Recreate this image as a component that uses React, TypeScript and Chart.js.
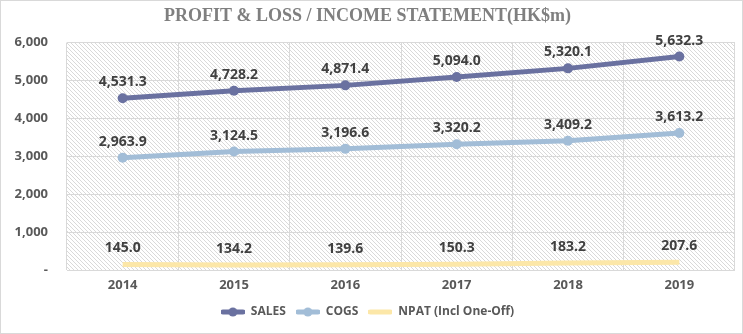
import React, { useEffect, useRef } from "react";
import { Chart, registerables } from "chart.js";

Chart.register(...registerables);

const years = ["2014", "2015", "2016", "2017", "2018", "2019"];
const sales = [4531.3, 4728.2, 4871.4, 5094.0, 5320.1, 5632.3];
const cogs = [2963.9, 3124.5, 3196.6, 3320.2, 3409.2, 3613.2];
const npat = [145.0, 134.2, 139.6, 150.3, 183.2, 207.6];
const seriesNames = ["SALES", "COGS", "NPAT (Incl One-Off)"];
const seriesColors = ["#6a71a0", "#a2bdd7", "#fce7a8"];

const LABEL_FONT = "bold 14px 'Open Sans', 'Liberation Sans', sans-serif";

function makeLegendIcon(color: string, marker: boolean) {
  const c = document.createElement("canvas");
  c.width = 24;
  c.height = 10;
  const ctx = c.getContext("2d")!;
  ctx.strokeStyle = color;
  ctx.lineWidth = 5;
  ctx.lineCap = "round";
  ctx.beginPath();
  ctx.moveTo(2, 5);
  ctx.lineTo(22, 5);
  ctx.stroke();
  if (marker) {
    ctx.fillStyle = color;
    ctx.beginPath();
    ctx.arc(12, 5, 4.5, 0, Math.PI * 2);
    ctx.fill();
  }
  return c;
}

function makeHatch() {
  const c = document.createElement("canvas");
  c.width = 4;
  c.height = 4;
  const ctx = c.getContext("2d")!;
  ctx.fillStyle = "#ffffff";
  ctx.fillRect(0, 0, 4, 4);
  ctx.strokeStyle = "#cfcfcf";
  ctx.lineWidth = 0.8;
  ctx.beginPath();
  ctx.moveTo(-1, -1);
  ctx.lineTo(5, 5);
  ctx.moveTo(3, -1);
  ctx.lineTo(5, 1);
  ctx.moveTo(-1, 3);
  ctx.lineTo(1, 5);
  ctx.stroke();
  return c;
}

const fmt = (v: number) =>
  v.toLocaleString("en-US", { minimumFractionDigits: 1, maximumFractionDigits: 1 });

export default function App() {
  const ref = useRef<HTMLCanvasElement>(null);

  useEffect(() => {
    document.body.style.margin = "0";
    const canvas = ref.current!;
    const hatch = canvas.getContext("2d")!.createPattern(makeHatch(), "repeat");

    const bgPlugin = {
      id: "bgPlugin",
      beforeDraw(chart: any) {
        const { ctx, chartArea, width, height } = chart;
        ctx.save();
        ctx.fillStyle = "#ffffff";
        ctx.fillRect(0, 0, width, height);
        if (hatch) {
          ctx.fillStyle = hatch;
          ctx.fillRect(chartArea.left, chartArea.top, chartArea.right - chartArea.left, chartArea.bottom - chartArea.top);
        }
        ctx.restore();
      },
      afterDraw(chart: any) {
        const { ctx, width, height } = chart;
        ctx.save();
        ctx.strokeStyle = "#d9d9d9";
        ctx.lineWidth = 1;
        ctx.strokeRect(0.5, 0.5, width - 1, height - 1);
        ctx.restore();
      },
    };

    const labelPlugin = {
      id: "valueLabels",
      afterDatasetsDraw(chart: any) {
        const { ctx } = chart;
        ctx.save();
        ctx.font = LABEL_FONT;
        ctx.fillStyle = "#404040";
        ctx.textAlign = "center";
        ctx.textBaseline = "middle";
        chart.data.datasets.forEach((ds: any, i: number) => {
          const meta = chart.getDatasetMeta(i);
          meta.data.forEach((pt: any, j: number) => {
            ctx.fillText(fmt(ds.data[j]), pt.x, pt.y - 16);
          });
        });
        ctx.restore();
      },
    };

    const icons = [
      makeLegendIcon(seriesColors[0], true),
      makeLegendIcon(seriesColors[1], true),
      makeLegendIcon(seriesColors[2], false),
    ];

    const chart = new Chart(canvas, {
      type: "line",
      data: {
        labels: years,
        datasets: [sales, cogs, npat].map((d, i) => ({
          label: seriesNames[i],
          data: d,
          borderColor: seriesColors[i],
          backgroundColor: seriesColors[i],
          borderWidth: 5,
          pointRadius: i < 2 ? 5 : 0,
          pointHoverRadius: i < 2 ? 5 : 0,
          pointBorderWidth: 0,
          tension: 0,
        })),
      },
      options: {
        animation: false,
        responsive: false,
        events: [],
        layout: { padding: { left: 0, right: 8, top: 0, bottom: 6 } },
        plugins: {
          title: {
            display: true,
            text: "PROFIT & LOSS / INCOME STATEMENT(HK$m)",
            color: "#7f7f7f",
            font: { family: "'Liberation Serif', 'DejaVu Serif', serif", size: 18, weight: "bold" },
            padding: { top: 6, bottom: 15 },
          },
          legend: {
            position: "bottom",
            labels: {
              usePointStyle: true,
              pointStyleWidth: 24,
              color: "#595959",
              font: { family: "'Open Sans', sans-serif", size: 12, weight: "bold" },
              padding: 10,
              generateLabels: (ch: any) =>
                ch.data.datasets.map((ds: any, i: number) => ({
                  text: ds.label,
                  fillStyle: seriesColors[i],
                  strokeStyle: seriesColors[i],
                  lineWidth: 0,
                  pointStyle: icons[i],
                  fontColor: "#595959",
                  hidden: false,
                  datasetIndex: i,
                })),
            },
          },
          tooltip: { enabled: false },
        },
        scales: {
          x: {
            offset: true,
            grid: { color: "#d9d9d9", offset: true, drawTicks: false },
            border: { display: false },
            afterFit: (s: any) => {
              s.height = 26;
            },
            ticks: {
              color: "#595959",
              padding: 7,
              font: { family: "'Open Sans', sans-serif", size: 13, weight: "bold" },
            },
          },
          y: {
            min: 0,
            max: 6000,
            grid: { color: "#d9d9d9", drawTicks: false },
            border: { display: false },
            afterFit: (s: any) => {
              s.width = 67;
            },
            ticks: {
              stepSize: 1000,
              padding: 19,
              color: "#595959",
              font: { family: "'Open Sans', sans-serif", size: 13, weight: "bold" },
              callback: (v: any) => (Number(v) === 0 ? "-" : Number(v).toLocaleString("en-US")),
            },
          },
        },
      },
      plugins: [bgPlugin, labelPlugin],
    } as any);

    return () => chart.destroy();
  }, []);

  return (
    <div style={{ width: 743, height: 334 }}>
      <canvas ref={ref} width={743} height={334} style={{ display: "block" }} />
    </div>
  );
}
